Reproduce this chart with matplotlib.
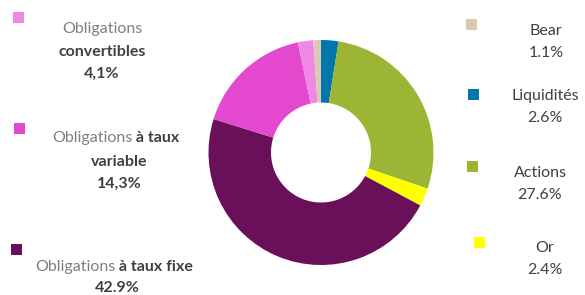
import numpy as np
import matplotlib.pyplot as plt
from matplotlib.patches import Rectangle

plt.rcParams['font.family'] = ['Lato', 'DejaVu Sans']

# slices clockwise from 12 o'clock (sizes as drawn)
names = ['Liquidités', 'Actions', 'Or', 'Obligations à taux fixe',
         'Obligations à taux variable', 'Obligations convertibles', 'Bear']
drawn = [2.5, 27.7, 2.6, 47.0, 16.9, 2.2, 1.1]
colors = ['#0077A8', '#9CB534', '#FFFF00', '#6A0F5A', '#E348CE', '#EE88E2', '#D9CBB1']

# printed labels
right_names = ['Bear', 'Liquidités', 'Actions', 'Or']
right_vals = ['1.1%', '2.6%', '27.6%', '2.4%']
right_cols = ['#D9CBB1', '#0077A8', '#9CB534', '#FFFF00']
left_vals = ['4,1%', '14,3%', '42.9%']
left_cols = ['#EE88E2', '#E348CE', '#6A0F5A']

W, H = 585, 295
fig = plt.figure(figsize=(W / 100, H / 100), dpi=100)
ax = fig.add_axes([0, 0, 1, 1])

ax.pie(drawn, colors=colors, startangle=90, counterclock=False,
       center=(321, H - 152.5), radius=112.5,
       wedgeprops=dict(width=112.5 - 50, linewidth=0))
ax.set_xlim(0, W)
ax.set_ylim(0, H)
ax.set_aspect('equal')
ax.axis('off')

light = '#7F7F7F'
dark = '#404040'
fs = 11.5

def sq(x, y, c):
    ax.add_patch(Rectangle((x, H - y - 11), 11, 11, color=c, lw=0))

def txt(x, y, s, c=dark, w='normal', ha='center'):
    return ax.text(x, H - y, s, color=c, fontsize=fs, fontweight=w,
                   ha=ha, va='center')

def chain(prev, s, c=dark, w='bold'):
    return ax.annotate(s, xy=(1, 0), xycoords=prev, va='bottom', ha='left',
                       color=c, fontsize=fs, fontweight=w)

# right side legend
sq_r = [(466, 19), (468, 89), (467, 161), (474, 237)]
txt_r = [(546, 31), (545, 96), (540, 173), (545, 248)]
for (sx, sy), (tx, ty), n, v, c in zip(sq_r, txt_r, right_names, right_vals, right_cols):
    sq(sx, sy, c)
    txt(tx, ty, n)
    txt(tx, ty + 22, v)

# left side legend
sq_l = [(13, 12), (14, 123), (11, 244)]
for (sx, sy), c in zip(sq_l, left_cols):
    sq(sx, sy, c)

txt(102, 29, 'Obligations', c=light)
txt(102, 52, 'convertibles', w='bold')
txt(102, 74, left_vals[0], w='bold')

t = txt(52, 138, 'Obligations', c=light, ha='left')
chain(t, ' à taux')
txt(119, 162, 'variable', w='bold')
txt(119, 184, left_vals[1], w='bold')

t = txt(35, 267, 'Obligations', c=light, ha='left')
chain(t, ' à taux fixe')
txt(117, 288, left_vals[2], w='bold')

fig.savefig('out.png', dpi=100)
